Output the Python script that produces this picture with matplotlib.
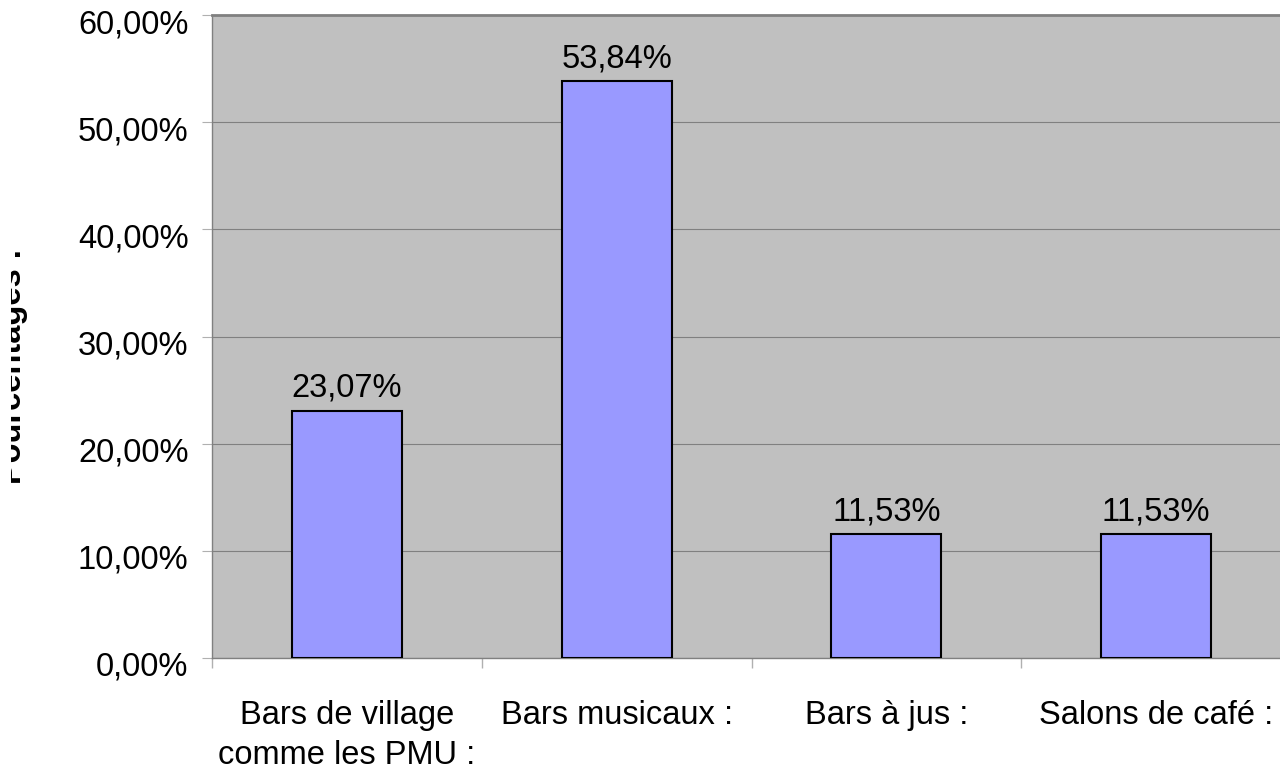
import numpy as np
import matplotlib
matplotlib.use("Agg")
import matplotlib.pyplot as plt
from matplotlib.ticker import FuncFormatter
from matplotlib.transforms import ScaledTranslation, Bbox, TransformedBbox

# Données
categories = ["Bars de village\ncomme les PMU :", "Bars musicaux :",
              "Bars à jus :", "Salons de café :"]
valeurs = [23.07, 53.84, 11.53, 11.53]
yticks = [0, 10, 20, 30, 40, 50, 60]

plt.rcParams['font.family'] = ['Liberation Sans', 'DejaVu Sans']
fs = 23.5

fig = plt.figure(figsize=(12.8, 7.69), dpi=100)
ax = fig.add_axes([212/1280, 111/769, 1079/1280, 643/769])

x = np.arange(len(categories))
ax.set_facecolor('#C0C0C0')
ax.bar(x, valeurs, width=0.408, color='#9999FF', edgecolor='black', linewidth=1.5, zorder=3)

for xi, v in zip(x, valeurs):
    ax.annotate(f"{v:.2f}%".replace('.', ','), (xi, v), xytext=(0, 5),
                textcoords='offset points', ha='center', va='bottom', fontsize=fs, zorder=4)

ax.set_xlim(-0.5, len(categories) - 0.5)
ax.set_ylim(0, 60)
ax.set_yticks(yticks)
ax.yaxis.set_major_formatter(FuncFormatter(lambda v, p: f"{v:.2f}%".replace('.', ',')))
ax.grid(axis='y', color='#808080', linewidth=0.8, zorder=0)

ax.set_xticks(x)
ax.set_xticklabels(categories, fontsize=fs, linespacing=1.38)
ax.set_xticks(np.arange(len(categories) + 1) - 0.5, minor=True)
ax.tick_params(axis='x', which='major', length=0, pad=30)
ax.tick_params(axis='x', which='minor', length=7, color='#B0B0B0', width=1)
ax.tick_params(axis='y', labelsize=fs, length=7, color='#B0B0B0', pad=10)

# les étiquettes de l'axe y sont un peu plus bas que les graduations
decal = ScaledTranslation(0, -6/100, fig.dpi_scale_trans)
for lab in ax.get_yticklabels():
    lab.set_transform(lab.get_transform() + decal)

for s in ['left', 'bottom']:
    ax.spines[s].set_color('#808080')
    ax.spines[s].set_linewidth(1)
ax.spines['top'].set_color('#808080')
ax.spines['top'].set_linewidth(2)
ax.spines['right'].set_visible(False)

# titre de l'axe y, coupé à gauche comme dans l'original
ylab = fig.text(13/1280, 1 - 366/769, "Pourcentages :", rotation=90, ha='center', va='center',
                fontsize=fs, fontweight='bold')
ylab.set_clip_box(TransformedBbox(Bbox([[11/1280, 0], [1, 1]]), fig.transFigure))
ylab.set_clip_on(True)

fig.savefig("out.png", dpi=100)
